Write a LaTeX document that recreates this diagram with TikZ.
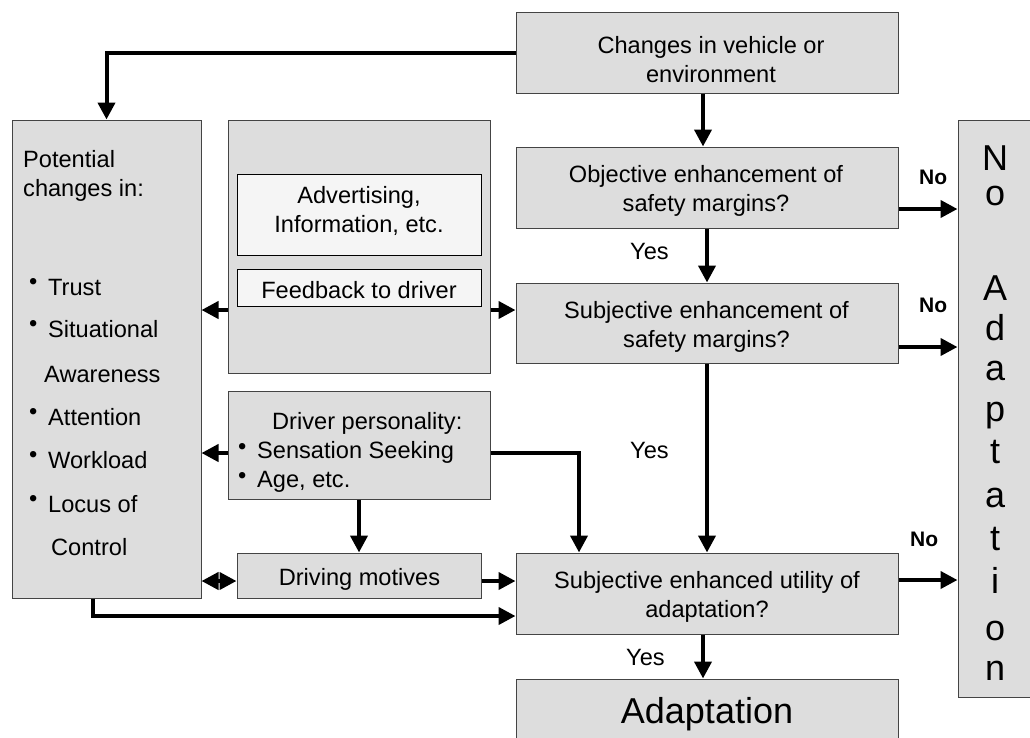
\documentclass[tikz,border=0pt]{standalone}
\usepackage{fontspec}
\setmainfont{Liberation Sans}
\usetikzlibrary{arrows.meta}
\definecolor{boxgray}{HTML}{DDDDDD}
\definecolor{innerfill}{HTML}{F5F5F5}
\definecolor{edgegray}{HTML}{444444}
\newcommand{\mybul}{\makebox[19pt][l]{\raisebox{5.5pt}{•}}}
\newcommand{\mybulB}{\makebox[19pt][l]{\raisebox{3.5pt}{•}}}
\begin{document}
\begin{tikzpicture}[x=1pt,y=-1pt,
  box/.style={draw=edgegray, fill=boxgray, line width=1pt, inner sep=0pt, rectangle},
  innerbox/.style={draw=black, fill=innerfill, line width=1pt, inner sep=0pt, rectangle},
  txt/.style={font=\fontsize{23.6pt}{29pt}\selectfont, inner sep=0pt, align=center},
  ltxt/.style={font=\fontsize{23.6pt}{29pt}\selectfont, inner sep=0pt, anchor=base west},
  notxt/.style={font=\fontsize{21pt}{25pt}\selectfont\bfseries, inner sep=0pt, anchor=base west},
  bigtxt/.style={font=\fontsize{36pt}{40pt}\selectfont, inner sep=0pt, anchor=base},
  arr/.style={line width=4pt, -{Triangle[length=17pt,width=17pt]}},
  darr/.style={line width=4pt, {Triangle[length=17pt,width=17pt]}-{Triangle[length=17pt,width=17pt]}}
]
\useasboundingbox (0,0) rectangle (1030,737);
\clip (0,0) rectangle (1030,737);
\fill[white] (0,0) rectangle (1030,737);

% boxes
\node[box, minimum width=382pt, minimum height=81pt] (chg) at (707,52.5) {};
\node[box, minimum width=382pt, minimum height=81pt] (obj) at (707,187.5) {};
\node[box, minimum width=382pt, minimum height=80pt] (subj) at (707,323) {};
\node[box, minimum width=382pt, minimum height=81pt] (util) at (707,593.5) {};
\node[box, minimum width=382pt, minimum height=81pt] (adapt) at (707,719.5) {};
\node[box, minimum width=80pt, minimum height=577pt] (noad) at (998,408.5) {};
\node[box, minimum width=189pt, minimum height=478pt] (pot) at (106.5,359) {};
\node[box, minimum width=262pt, minimum height=253pt] (mid) at (359,246.5) {};
\node[innerbox, minimum width=244pt, minimum height=81pt] (adv) at (359,214.5) {};
\node[innerbox, minimum width=244pt, minimum height=37pt] (fb) at (359,287.5) {};
\node[box, minimum width=262pt, minimum height=108pt] (drv) at (359,445) {};
\node[box, minimum width=244pt, minimum height=45pt] (mot) at (359,575.5) {};

% texts (base = baseline of the last line)
\node[txt, anchor=base] (tchg) at (711,82) {Changes in vehicle or\\environment};
\node[txt, anchor=base] (tobj) at (706,211) {Objective enhancement of\\safety margins?};
\node[txt, anchor=base] (tsubj) at (706.5,347) {Subjective enhancement of\\safety margins?};
\node[txt, anchor=base] (tutil) at (707,617) {Subjective enhanced utility of\\adaptation?};
\node[bigtxt] (tadapt) at (707,723) {Adaptation};
\node[txt, anchor=base] (tadv) at (359,232) {Advertising,\\Information, etc.};
\node[txt, anchor=base] (tfb) at (359,298) {Feedback to driver};
\node[txt, anchor=base] (tmot) at (359.5,585) {Driving motives};

\node[ltxt] (p1) at (23,167) {Potential};
\node[ltxt] (p2) at (23,196) {changes in:};
\node[ltxt] (i1) at (29,295) {\mybul Trust};
\node[ltxt] (i2) at (29,337) {\mybul Situational};
\node[ltxt] (i3) at (44,382) {Awareness};
\node[ltxt] (i4) at (29,425) {\mybul Attention};
\node[ltxt] (i5) at (29,468) {\mybul Workload};
\node[ltxt] (i6) at (29,512) {\mybul Locus of};
\node[ltxt] (i7) at (51,555) {Control};

\node[ltxt] (d1) at (272,429) {Driver personality:};
\node[ltxt] (d2) at (238,458) {\mybulB Sensation Seeking};
\node[ltxt] (d3) at (238,487) {\mybulB Age, etc.};

\node[ltxt] (y1) at (630,259) {Yes};
\node[ltxt] (y2) at (630,458) {Yes};
\node[ltxt] (y3) at (626,665) {Yes};
\node[notxt] (n1) at (919,184) {No};
\node[notxt] (n2) at (919,312) {No};
\node[notxt] (n3) at (910,546) {No};

\foreach \ch/\yy [count=\k] in {N/170,o/205,A/300,d/340,a/380,p/421,t/463,a/507,t/550,i/593,o/640,n/680}
  \node[bigtxt] (na\k) at (995,\yy) {\ch};

% connectors
\draw[arr] (chg.west) -| (pot.north);
\draw[arr] ([xshift=-4pt]chg.south) -- ([xshift=-4pt]obj.north);
\draw[arr] (obj.south) -- (subj.north);
\draw[arr] ([yshift=-21.5pt]obj.east) -- ([yshift=-21.5pt]obj.east -| noad.west);
\draw[arr] ([yshift=-24pt]subj.east) -- ([yshift=-24pt]subj.east -| noad.west);
\draw[arr] ([yshift=-63.5pt]mid.west) -- ([yshift=-63.5pt]mid.west -| pot.east);
\draw[arr] ([yshift=-63.5pt]mid.east) -- ([yshift=-63.5pt]mid.east -| subj.west);
\draw[arr] (subj.south) -- (util.north);
\draw[arr] ([yshift=-8pt]drv.west) -- ([yshift=-8pt]drv.west -| pot.east);
\coordinate (drvturn) at (579,453);
\draw[arr] ([yshift=-8pt]drv.east) -- (drvturn) -- (drvturn |- util.north);
\draw[arr] (drv.south) -- (mot.north);
\draw[darr] ([yshift=-5.5pt]mot.west -| pot.east) -- ([yshift=-5.5pt]mot.west);
\draw[arr] ([yshift=-5.5pt]mot.east) -- ([yshift=-5.5pt]mot.east -| util.west);
\coordinate (potturn) at (93,616);
\draw[arr] (pot.south -| potturn) -- (potturn) -- (potturn -| util.west);
\draw[arr] ([yshift=13.5pt]util.east) -- ([yshift=13.5pt]util.east -| noad.west);
\draw[arr] ([xshift=-4pt]util.south) -- ([xshift=-4pt]adapt.north);
\end{tikzpicture}
\end{document}
